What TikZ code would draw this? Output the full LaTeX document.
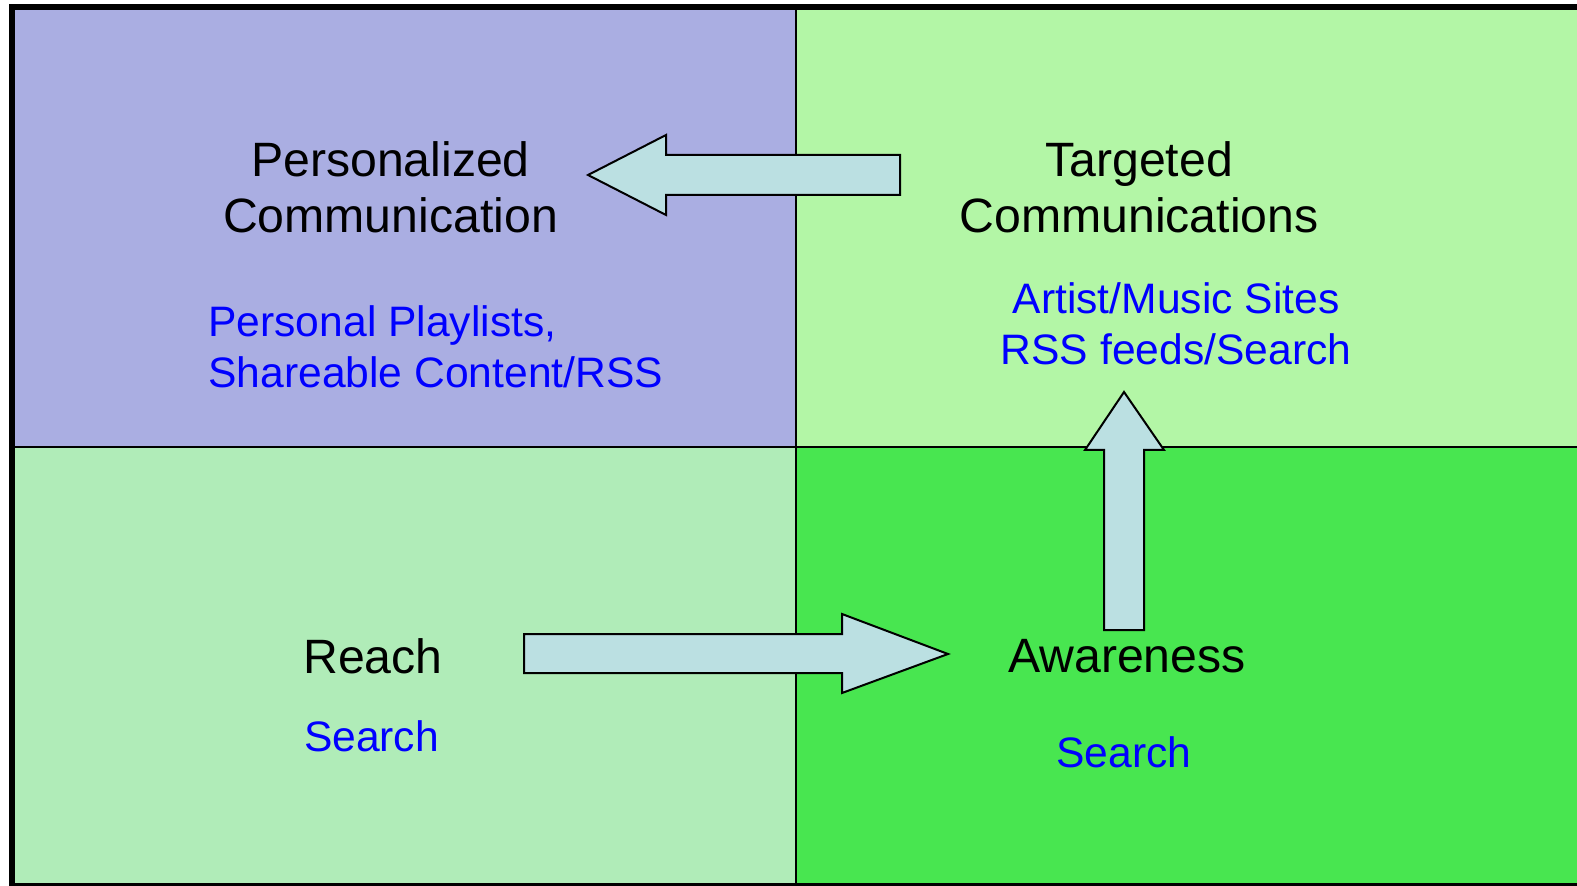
\documentclass[tikz,border=0pt]{standalone}
\usepackage{fontspec}
\setmainfont{Liberation Sans}

\definecolor{quadpers}{RGB}{170,174,226}
\definecolor{quadtarg}{RGB}{179,246,166}
\definecolor{quadreach}{RGB}{176,236,184}
\definecolor{quadaware}{RGB}{72,230,80}
\definecolor{arrowfill}{RGB}{187,224,226}

\tikzset{
	head/.style={font=\fontsize{24.1}{27.8}\selectfont, align=center, inner sep=0pt},
	sub/.style={text=blue, font=\fontsize{21.3}{25.5}\selectfont, inner sep=0pt},
	blockarrow/.style={fill=arrowfill, draw=black, line width=1pt, line join=miter},
}

\begin{document}
\begin{tikzpicture}[x=0.5pt,y=-0.5pt]

% parameters %{{{2

	\def\midx{796}
	\def\midy{447}
	\def\right{1600}

	\useasboundingbox (0,0) rectangle (1577,886);
	\clip (0,0) rectangle (1577,886);

% quadrants %{{{2

	\coordinate (NW) at (12,7);
	\coordinate (SE) at (\right,886);
	\coordinate (M) at (\midx,\midy);

	\fill[quadpers] (NW) rectangle (M);
	\fill[quadtarg] (\midx,7) rectangle (\right,\midy);
	\fill[quadreach] (12,\midy) rectangle (\midx,886);
	\fill[quadaware] (M) rectangle (SE);

	\draw[line width=1.2pt] (\midx,7) -- (\midx,886);
	\draw[line width=1.2pt] (12,\midy) -- (\right,\midy);
	\draw[line width=3pt] (NW) rectangle (SE);

% arrows %{{{2

	\draw[blockarrow] (900,155) -- (666,155) -- (666,135) -- (588,175)
		-- (666,215) -- (666,195) -- (900,195) -- cycle;
	\draw[blockarrow] (524,634) -- (842,634) -- (842,614) -- (948,654)
		-- (842,693) -- (842,673) -- (524,673) -- cycle;
	\draw[blockarrow] (1104,630) -- (1104,450) -- (1085,450) -- (1124,392)
		-- (1164,450) -- (1144,450) -- (1144,630) -- cycle;

% labels %{{{2

	\node[head] (pers) at (390.5,187.5) {Personalized\\Communication};
	\node[head] (targ) at (1139,187.5) {Targeted\\Communications};
	\node[sub, align=left, anchor=west] (perssub) at (208,346.5) {Personal Playlists,\\Shareable Content/RSS};
	\node[sub, align=center] (targsub) at (1176,323.5) {Artist/Music Sites\\RSS feeds/Search};

	\node[head] (reach) at (373,656) {Reach};
	\node[sub] (reachsub) at (371.5,736) {Search};
	\node[head] (aware) at (1127,656) {Awareness};
	\node[sub] (awaresub) at (1124,752) {Search};

% closing %{{{2

\end{tikzpicture}
\end{document}
